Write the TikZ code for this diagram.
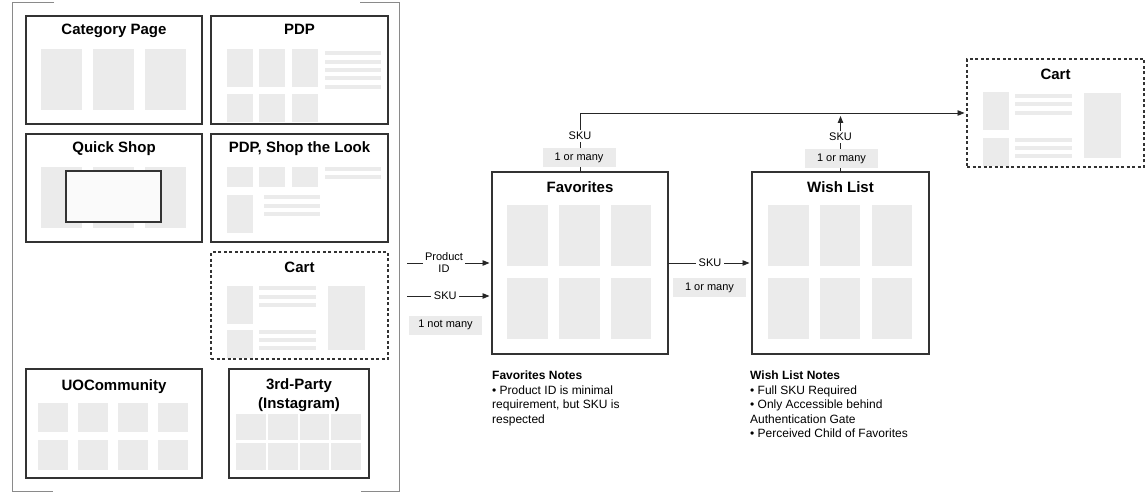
\documentclass[tikz,border=0pt]{standalone}
\usepackage{fontspec}
\setmainfont{Liberation Sans}
\usetikzlibrary{arrows.meta}
\definecolor{phgray}{HTML}{EBEBEB}
\definecolor{boxline}{HTML}{333333}
\definecolor{brk}{HTML}{8A8A8A}
\definecolor{modal}{HTML}{FAFAFA}
\begin{document}
\begin{tikzpicture}[x=1pt,y=-1pt,
  screen/.style={draw=boxline, line width=1.1pt, inner sep=0pt, outer sep=0pt, anchor=north west},
  dscreen/.style={screen, dash pattern=on 3pt off 2.5pt},
  ttl/.style={font=\bfseries\fontsize{15}{19}\selectfont, anchor=base, inner sep=0pt},
  ph/.style={fill=phgray},
  arr/.style={draw=black!85, line width=0.9pt, shorten >=2.5pt, -{Triangle[length=7pt,width=5.5pt]}},
  lbl/.style={fill=white, font=\fontsize{11}{12}\selectfont, inner sep=2.5pt, align=center},
  tag/.style={fill=phgray, minimum width=73pt, minimum height=19pt, inner sep=0pt, font=\fontsize{11}{12}\selectfont},
  note/.style={anchor=north west, inner sep=0pt, align=left, font=\fontsize{12}{14.5}\selectfont},
  brkline/.style={draw=brk, line width=1pt},
]
\useasboundingbox (0,0) rectangle (1146,492);

% bracket around sources
\draw[brkline] (54,3) -- (12,3) -- (12,491) -- (53,491);
\draw[brkline] (360,3) -- (399,3) -- (399,491) -- (361,491);

% ---------- Category Page
\node[screen, minimum width=176pt, minimum height=108pt] (cat) at (26,16) {};
\node[ttl] (catT) at (114,35) {Category Page};
\foreach \a/\b in {41/82,93/134,145/186} \fill[ph] (\a,49) rectangle (\b,110);

% ---------- PDP
\node[screen, minimum width=177pt, minimum height=108pt] (pdp) at (211,16) {};
\node[ttl] (pdpT) at (299.5,35) {PDP};
\foreach \a/\b in {227/253,259/285,292/318}{
  \fill[ph] (\a,49) rectangle (\b,87);
  \fill[ph] (\a,94) rectangle (\b,122);}
\foreach \y in {53,62,70,78,87} \fill[ph] (325,\y-2) rectangle (381,\y+2);

% ---------- Quick Shop
\node[screen, minimum width=176pt, minimum height=108pt] (qs) at (26,134) {};
\node[ttl] (qsT) at (114,153) {Quick Shop};
\foreach \a/\b in {41/82,93/134,145/186} \fill[ph] (\a,167) rectangle (\b,228);
\draw[fill=modal, draw=boxline, line width=1.1pt] (66,171) rectangle (161,222);

% ---------- PDP, Shop the Look
\node[screen, minimum width=177pt, minimum height=108pt] (stl) at (211,134) {};
\node[ttl] (stlT) at (299.5,153) {PDP, Shop the Look};
\foreach \a/\b in {227/253,259/285,292/318} \fill[ph] (\a,167) rectangle (\b,187);
\foreach \y in {169,177} \fill[ph] (325,\y-2) rectangle (381,\y+2);
\fill[ph] (227,195) rectangle (253,233);
\foreach \y in {197,206,214} \fill[ph] (264,\y-2) rectangle (320,\y+2);

% ---------- Cart (left)
\node[dscreen, minimum width=177pt, minimum height=107pt] (cartL) at (211,252) {};
\node[ttl] (cartLT) at (299.5,272) {Cart};
\begin{scope}[shift={(211,252)}]
  \fill[ph] (16,33.5) rectangle (42,71.5);
  \foreach \y in {36,45,53} \fill[ph] (48,\y-2) rectangle (105,\y+2);
  \fill[ph] (16,78) rectangle (42,105.5);
  \foreach \y in {80,88,96} \fill[ph] (48,\y-2) rectangle (105,\y+2);
  \fill[ph] (117,34) rectangle (154,98);
\end{scope}

% ---------- UOCommunity
\node[screen, minimum width=176pt, minimum height=109pt] (uo) at (26,369) {};
\node[ttl] (uoT) at (114,390) {UOCommunity};
\foreach \a/\b in {38/68,78/108,118/148,158/188}{
  \fill[ph] (\a,403) rectangle (\b,432);
  \fill[ph] (\a,440) rectangle (\b,470);}

% ---------- 3rd-Party
\node[screen, minimum width=140pt, minimum height=109pt] (ig) at (229,369) {};
\node[font=\bfseries\fontsize{15}{19}\selectfont, anchor=north, inner sep=0pt, align=center] (igT) at (299,378.5) {3rd-Party\\(Instagram)};
\foreach \a/\b in {236/266,268/298,300/329,331/361}{
  \fill[ph] (\a,414) rectangle (\b,440);
  \fill[ph] (\a,443) rectangle (\b,470);}

% ---------- Favorites
\node[screen, minimum width=176pt, minimum height=182pt] (fav) at (492,172) {};
\node[ttl] (favT) at (580,192) {Favorites};
\foreach \a/\b in {507/548,559/600,611/651}{
  \fill[ph] (\a,205) rectangle (\b,266);
  \fill[ph] (\a,278) rectangle (\b,339);}

% ---------- Wish List
\node[screen, minimum width=177pt, minimum height=182pt] (wish) at (752,172) {};
\node[ttl] (wishT) at (840.5,192) {Wish List};
\foreach \a/\b in {768/809,820/860,872/912}{
  \fill[ph] (\a,205) rectangle (\b,266);
  \fill[ph] (\a,278) rectangle (\b,339);}

% ---------- Cart (right)
\node[dscreen, minimum width=177pt, minimum height=108pt] (cartR) at (967,59) {};
\node[ttl] (cartRT) at (1055.5,80) {Cart};
\begin{scope}[shift={(967,59)}]
  \fill[ph] (16,33.5) rectangle (42,71.5);
  \foreach \y in {37,45,54} \fill[ph] (48,\y-2) rectangle (105,\y+2);
  \fill[ph] (16,79) rectangle (42,107);
  \foreach \y in {81,89,97} \fill[ph] (48,\y-2) rectangle (105,\y+2);
  \fill[ph] (117,34) rectangle (154,99);
\end{scope}

% ---------- connectors
\coordinate (pidS) at (407,263);
\coordinate (skuS) at (407,296);
\draw[arr] (pidS) -- (pidS -| fav.west) node[lbl, pos=0.435] {Product\\ID};
\draw[arr] (skuS) -- (skuS -| fav.west) node[lbl, pos=0.45] {SKU};
\node[tag] (t1) at (445.5,325) {1 not many};

\draw[arr] (fav.east |- pidS) -- (wish.west |- pidS) node[lbl, midway] {SKU};
\node[tag] (t2) at (709.5,287.5) {1 or many};

\draw[arr] (fav.north) |- (cartR.west) node[lbl, pos=0.305] {SKU};
\node[tag] (t3) at (579,157.5) {1 or many};

\coordinate (wtip) at (840.5,113.5);
\draw[arr] (wish.north) -- (wtip) node[lbl, pos=0.6] {SKU};
\node[tag] (t4) at (841.5,158.5) {1 or many};

% ---------- notes
\node[note] (fnotes) at (492,371) {\textbf{Favorites Notes}\\• Product ID is minimal\\requirement, but SKU is\\respected};
\node[note] (wnotes) at (750,371) {\textbf{Wish List Notes}\\• Full SKU Required\\• Only Accessible behind\\Authentication Gate\\• Perceived Child of Favorites};
\end{tikzpicture}
\end{document}
